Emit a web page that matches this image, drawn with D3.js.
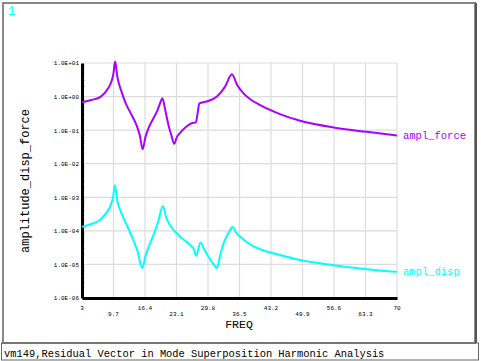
<!DOCTYPE html>
<html><head><meta charset="utf-8">
<script src="https://cdn.jsdelivr.net/npm/d3@7"></script>
<style>html,body{margin:0;padding:0;background:#fff;}svg{display:block;}</style>
</head><body>
<svg id="c" width="481" height="361"></svg>
<script>
const xTicks = [3, 9.7, 16.4, 23.1, 29.8, 36.5, 43.2, 49.9, 56.6, 63.3, 70];
const yTicks = [1e1, 1e0, 1e-1, 1e-2, 1e-3, 1e-4, 1e-5, 1e-6];
const yTickLabels = ["1.0E+01","1.0E+00","1.0E-01","1.0E-02","1.0E-03","1.0E-04","1.0E-05","1.0E-06"];
const forceFreq = [3,5,7,8.6,9.4,9.7,10.05,10.5,11.4,12.3,13.2,14.6,15.3,15.9,16.5,17.1,18,18.9,19.6,20.1,20.7,21.4,22,22.6,23.2,23.8,25.3,26.3,27.2,27.6,27.95,29.5,31.7,33.4,34.9,36,37.3,39,40.9,43,45.1,49.4,56.5,63.6,70];
const forceAmp = [0.68,0.79,1.0,1.8,3.2,5.0,11,4.0,1.4,0.63,0.35,0.14,0.07,0.027,0.063,0.11,0.2,0.35,0.63,0.89,0.4,0.14,0.071,0.039,0.063,0.081,0.13,0.16,0.17,0.32,0.63,0.71,1.0,1.95,4.6,2.2,1.26,0.79,0.56,0.4,0.3,0.19,0.12,0.089,0.069];
const dispFreq = [3,5,6.83,8,8.96,9.6,10,10.5,11.4,12.6,13.9,14.8,15.8,16.6,17.5,18.4,19.2,20.2,20.9,21.7,23.8,26,26.8,27.25,28.2,29,29.9,30.8,31.7,32.5,33.4,34.2,35,35.8,36.6,39.4,42,45.1,49.4,56.5,63.6,70];
const dispAmp = [1.33e-4,1.6e-4,2.1e-4,3.2e-4,5.2e-4,1.0e-3,2.3e-3,7.9e-4,3.3e-4,1.4e-4,5.4e-5,2.5e-5,7.9e-6,2.0e-5,4.3e-5,8.9e-5,1.9e-4,5.5e-4,2.5e-4,1.5e-4,6.8e-5,3.8e-5,2.8e-5,1.8e-5,4.5e-5,2.8e-5,1.7e-5,1.1e-5,7.9e-6,2.2e-5,5.4e-5,8.9e-5,1.3e-4,8.9e-5,6.8e-5,3.5e-5,2.5e-5,1.9e-5,1.35e-5,9.5e-6,7.2e-6,6.0e-6];
const seriesNames = ["ampl_force","ampl_disp"];
const titleText = "vm149,Residual Vector in Mode Superposition Harmonic Analysis";
const xTitle = "FREQ", yTitle = "amplitude_disp_force", winLabel = "1";

const svg = d3.select("#c");
const FONT = "'Liberation Mono', 'DejaVu Sans Mono', monospace";
const L = 82, R = 397, T = 63, B = 298;
const x = d3.scaleLinear().domain([3,70]).range([L,R]);
const y = d3.scaleLog().domain([1e-6,1e1]).range([B,T]);

// window frame
svg.append("rect").attr("x",3).attr("y",3).attr("width",472).attr("height",340)
  .attr("fill","none").attr("stroke","#888").attr("stroke-width",2);
svg.append("line").attr("x1",476).attr("x2",476).attr("y1",3).attr("y2",343).attr("stroke","#555").attr("stroke-width",2);
svg.append("rect").attr("x",1.5).attr("y",343).attr("width",477).attr("height",17)
  .attr("fill","none").attr("stroke","#666").attr("stroke-width",1);

svg.append("text").attr("x",8).attr("y",15).attr("fill","#00ffff")
  .attr("font-family",FONT).attr("font-size",12).text(winLabel);

// grid
const g = svg.append("g");
g.selectAll(".vg").data(xTicks.slice(1)).join("line")
  .attr("x1",d=>x(d)).attr("x2",d=>x(d)).attr("y1",T).attr("y2",B)
  .attr("stroke","#dcdcdc").attr("stroke-width",1.2);
g.selectAll(".hg").data(yTicks.slice(0,-1)).join("line")
  .attr("x1",L).attr("x2",R).attr("y1",d=>y(d)).attr("y2",d=>y(d))
  .attr("stroke","#dcdcdc").attr("stroke-width",1.2);

// minor ticks
const minor = [];
for (let e=-6;e<1;e++) for (let m=2;m<10;m++) minor.push(m*Math.pow(10,e));
g.selectAll(".mt").data(minor).join("line")
  .attr("x1",L).attr("x2",L+3).attr("y1",d=>y(d)).attr("y2",d=>y(d))
  .attr("stroke","#bbb").attr("stroke-width",0.8);

// axes
const xAxis = svg.append("g").attr("transform",`translate(0,${B})`)
  .call(d3.axisBottom(x).tickValues(xTicks).tickSize(0).tickFormat(""));
xAxis.select(".domain").attr("stroke","#000").attr("stroke-width",3);
const yAxis = svg.append("g").attr("transform",`translate(${L},0)`)
  .call(d3.axisLeft(y).tickValues(yTicks).tickSize(0).tickFormat((d,i)=>yTickLabels[i]));
yAxis.select(".domain").attr("stroke","#000").attr("stroke-width",3);
yAxis.selectAll("text").attr("font-family",FONT).attr("font-size",6).attr("fill","#000").attr("x",-3);

svg.selectAll(".xl").data(xTicks).join("text")
  .attr("x",d=>x(d)).attr("y",(d,i)=> i%2===0 ? 310 : 316)
  .attr("text-anchor","middle").attr("font-family",FONT).attr("font-size",6).attr("fill","#000")
  .text(d=>d);

svg.append("text").attr("x",239).attr("y",328).attr("text-anchor","middle")
  .attr("font-family",FONT).attr("font-size",11.5).attr("fill","#000").text(xTitle);
svg.append("text").attr("transform","translate(29,181) rotate(-90)").attr("text-anchor","middle")
  .attr("font-family",FONT).attr("font-size",12).attr("fill","#000").text(yTitle);

// lines
const line = d3.line().x(d=>x(d[0])).y(d=>y(d[1])).curve(d3.curveMonotoneX);
const series = [
  {name:seriesNames[0], data:forceFreq.map((f,i)=>[f,forceAmp[i]]), color:"#aa00ff"},
  {name:seriesNames[1], data:dispFreq.map((f,i)=>[f,dispAmp[i]]), color:"#00ffff"}
];
series.forEach(s=>{
  svg.append("path").attr("d",line(s.data)).attr("fill","none")
    .attr("stroke",s.color).attr("stroke-width",2).attr("stroke-linejoin","round");
  const last = s.data[s.data.length-1];
  svg.append("text").attr("x",403).attr("y",y(last[1])+3).attr("fill",s.color)
    .attr("font-family",FONT).attr("font-size",10.5).text(s.name);
});

svg.append("text").attr("x",4).attr("y",357).attr("fill","#000")
  .attr("font-family",FONT).attr("font-size",10.4).text(titleText);
</script>
</body></html>
